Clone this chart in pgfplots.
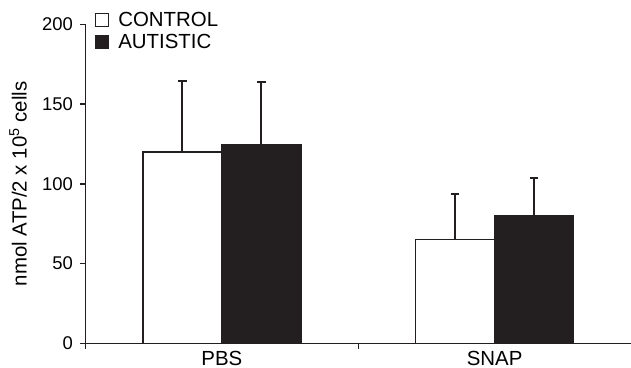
\documentclass[border=0pt]{standalone}
\usepackage{pgfplots}
\pgfplotsset{compat=1.18}
\usepackage{fontspec}
\setmainfont{Liberation Sans}
\definecolor{barblack}{HTML}{231F20}
\begin{document}
\begin{tikzpicture}
\begin{axis}[
  scale only axis,
  width=545.5bp, height=319bp,
  xmin=0, xmax=2, ymin=0, ymax=200,
  axis x line=bottom, axis y line=left,
  axis line style={-, line width=1.5bp, color=barblack},
  ybar=0pt, bar width=79bp,
  xtick={0.5,1.5}, xticklabels={PBS,SNAP},
  minor xtick={0,1},
  ytick={0,50,100,150,200},
  tick align=outside,
  major tick length=5.5bp, minor tick length=5.5bp,
  x tick style={draw=none},
  minor x tick style={draw=barblack, line width=1.5bp},
  y tick style={line width=1.5bp, color=barblack},
  /pgf/number format/assume math mode=true,
  yticklabel style={font=\fontsize{18.5}{21}\selectfont, inner sep=0pt, anchor=east, xshift=-7bp},
  xticklabel style={font=\fontsize{20.5}{24}\selectfont, inner sep=0pt, anchor=north, yshift=-2bp},
  ylabel={nmol ATP/2 x 10\textsuperscript{5} cells},
  every axis y label/.style={at={(rel axis cs:0,0.5)}, xshift=-67.5bp, rotate=90, anchor=center, font=\fontsize{20.5}{24}\selectfont},
  legend style={at={(rel axis cs:0.017,1.045)}, anchor=north west, draw=none, fill=none,
    font=\fontsize{20.5}{24}\selectfont, inner sep=0pt, row sep=2bp, column sep=7bp,
    legend cell align=left},
  legend image code/.code={\draw[#1, line width=1.3bp] (0bp,-6.5bp) rectangle (13bp,6.5bp);},
  error bars/y dir=plus, error bars/y explicit,
  error bars/error mark options={rotate=90, mark size=4.2bp, line width=1.8bp, color=barblack},
  error bars/error bar style={line width=1.8bp, color=barblack},
]
\addplot[draw=barblack, fill=white, line width=1.3bp] coordinates {
  (0.5,120) +- (0,44.5)
  (1.5,65) +- (0,28.8)
};
\addplot[draw=barblack, fill=barblack, line width=1.3bp] coordinates {
  (0.5,124.5) +- (0,39.3)
  (1.5,80) +- (0,23.5)
};
\legend{CONTROL, AUTISTIC}
\coordinate (bl) at (rel axis cs:0,0);
\end{axis}
\pgfresetboundingbox
\path[use as bounding box] ([shift={(-85.5bp,-24.7bp)}]bl) rectangle ([shift={(545.5bp,343.3bp)}]bl);
\end{tikzpicture}
\end{document}
